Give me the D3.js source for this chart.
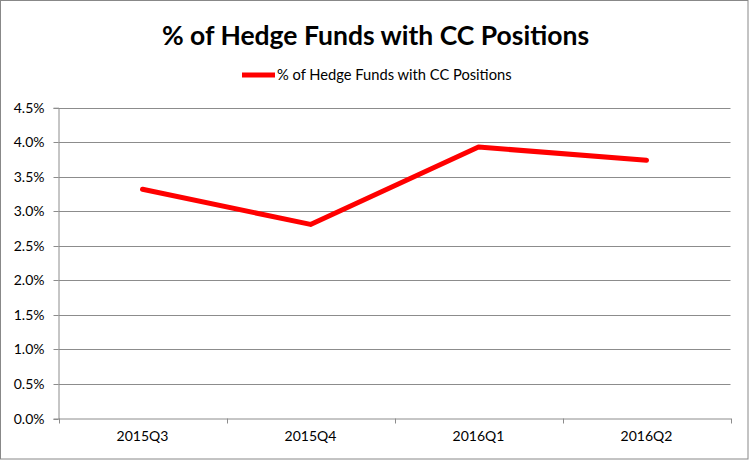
<!DOCTYPE html>
<html><head><meta charset="utf-8">
<script src="https://cdn.jsdelivr.net/npm/d3@7"></script>
<style>
html,body{margin:0;padding:0;background:#fff;}
svg text{font-family:Lato,"Open Sans",sans-serif;fill:#000;}
</style></head>
<body><svg id="c" width="750" height="461"></svg>
<script>
const categories = ["2015Q3","2015Q4","2016Q1","2016Q2"];
const values = [3.32, 2.81, 3.93, 3.74];
const yTicks = [0,0.5,1,1.5,2,2.5,3,3.5,4,4.5];
const seriesName = "% of Hedge Funds with CC Positions";
const titleText = "% of Hedge Funds with CC Positions";

const svg = d3.select("#c");
svg.append("rect").attr("x",0.5).attr("y",0.5).attr("width",747.5).attr("height",458.5)
  .attr("fill","#fff").attr("stroke","#888").attr("stroke-width",1);

const x = d3.scaleBand().domain(categories).range([58.5,730.5]).padding(0);
const y = d3.scaleLinear().domain([0,4.5]).range([418.5,107.7]);

// gridlines
svg.append("g").selectAll("line").data(yTicks.filter(d=>d>0)).join("line")
  .attr("x1",58.5).attr("x2",730.5)
  .attr("y1",d=>Math.round(y(d))+0.5).attr("y2",d=>Math.round(y(d))+0.5)
  .attr("stroke","#8c8c8c").attr("stroke-width",1);

// y axis
const ya = svg.append("g").attr("transform","translate(58.5,0)")
  .call(d3.axisLeft(y).tickValues(yTicks).tickFormat(d=>d.toFixed(1)+"%").tickSize(5).tickPadding(9));
ya.select(".domain").attr("stroke","#8c8c8c");
ya.selectAll(".tick line").attr("stroke","#8c8c8c");
ya.selectAll(".tick").attr("transform",d=>`translate(0,${Math.round(y(d))+0.5})`);
ya.selectAll("text").style("font-family","Lato").style("font-size","14px").attr("fill","#000");

// x axis
const xa = svg.append("g").attr("transform","translate(0,418.5)")
  .call(d3.axisBottom(x).tickSize(0).tickPadding(13));
xa.select(".domain").attr("stroke","#8c8c8c");
xa.selectAll("text").style("font-family","Lato").style("font-size","14px").attr("fill","#000");
const bounds = categories.map(c=>x(c)).concat([x.range()[1]]);
xa.append("g").selectAll("line").data(bounds).join("line")
  .attr("x1",d=>Math.round(d)+0.5).attr("x2",d=>Math.round(d)+0.5)
  .attr("y1",0).attr("y2",5).attr("stroke","#8c8c8c");

// line
const line = d3.line().x((d,i)=>x(categories[i])+x.bandwidth()/2).y(d=>y(d));
svg.append("path").datum(values).attr("d",line).attr("fill","none")
  .attr("stroke","#ff0000").attr("stroke-width",5)
  .attr("stroke-linejoin","round").attr("stroke-linecap","round");

// title
svg.append("text").attr("x",375.5).attr("y",45).attr("text-anchor","middle")
  .style("font-size","26.5px").style("font-weight","bold").text(titleText);

// legend
svg.append("line").attr("x1",242).attr("x2",275).attr("y1",75).attr("y2",75)
  .attr("stroke","#ff0000").attr("stroke-width",5);
svg.append("text").attr("x",277).attr("y",80).style("font-size","14.7px").text(seriesName);
</script></body></html>
